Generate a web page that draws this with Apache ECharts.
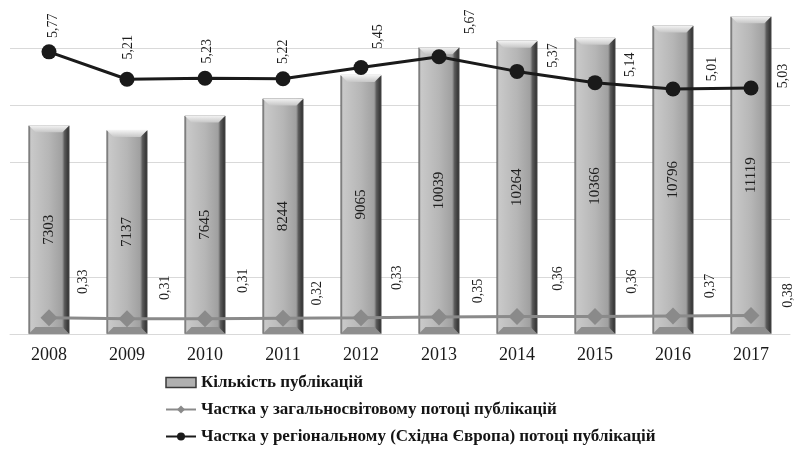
<!DOCTYPE html>
<html>
<head>
<meta charset="utf-8">
<script src="https://cdn.jsdelivr.net/npm/echarts@6/dist/echarts.min.js"></script>
<style>
  html, body { margin: 0; padding: 0; background: #ffffff; }
  #chart { width: 795px; height: 450px; }
</style>
</head>
<body>
<div id="chart"></div>
<script>
// Publication counts and shares, 2008–2017
const years = ['2008', '2009', '2010', '2011', '2012', '2013', '2014', '2015', '2016', '2017'];
const publications = [7303, 7137, 7645, 8244, 9065, 10039, 10264, 10366, 10796, 11119];
const worldShare = [0.33, 0.31, 0.31, 0.32, 0.33, 0.35, 0.36, 0.36, 0.37, 0.38];
const regionShare = [5.77, 5.21, 5.23, 5.22, 5.45, 5.67, 5.37, 5.14, 5.01, 5.03];
const seriesNames = [
  'Кількість публікацій',
  'Частка у загальносвітовому потоці публікацій',
  'Частка у регіональному (Східна Європа) потоці публікацій'
];

// Placement of the vertical value labels: screen shift (px) from each marker
const regionLabelShift = [[4, -26], [1, -32], [2, -27], [0, -27], [17, -31], [31, -35], [36, -16], [35, -18], [39, -20], [32, -12]];
const worldLabelShift = [[34, -36], [38, -31], [38, -38], [34, -25], [36, -40], [39, -26], [41, -38], [37, -35], [37, -30], [37, -20]];

const SERIF = '"Liberation Serif", "DejaVu Serif", serif';
const BAR_W = 41;
const BEVEL = 7;

// label offset is applied in the rotated text frame (rotate: 90)
function rotatedOffset(s) { return [-s[1], s[0]]; }
function fmt(v) { return v.toFixed(2).replace('.', ','); }

const barFill = new echarts.graphic.LinearGradient(0, 0, 1, 0, [
  { offset: 0, color: '#6f6f6f' },
  { offset: 0.06, color: '#c9c9c9' },
  { offset: 0.5, color: '#b6b6b6' },
  { offset: 0.82, color: '#a0a0a0' },
  { offset: 0.88, color: '#5a5a5a' },
  { offset: 1, color: '#2a2a2a' }
]);

const chart = echarts.init(document.getElementById('chart'), null, { renderer: 'canvas' });

chart.setOption({
  backgroundColor: '#ffffff',
  animation: false,
  grid: { left: 10, right: 5, top: 0, bottom: 116, containLabel: false },
  legend: {
    orient: 'vertical',
    left: 165,
    top: 374,
    padding: 0,
    itemWidth: 30,
    itemHeight: 10,
    itemGap: 10,
    textStyle: { fontFamily: SERIF, fontSize: 17, fontWeight: 'bold', color: '#141414' },
    data: [
      { name: seriesNames[0], icon: 'rect', itemStyle: { color: '#b0b0b0', borderColor: '#3a3a3a', borderWidth: 1.5 } },
      { name: seriesNames[1] },
      { name: seriesNames[2] }
    ]
  },
  xAxis: {
    type: 'category',
    data: years,
    axisLine: { show: true, lineStyle: { color: '#d9d9d9', width: 1 } },
    axisTick: { show: false },
    axisLabel: { fontFamily: SERIF, fontSize: 18, color: '#1a1a1a', margin: 12 }
  },
  yAxis: [
    {
      type: 'value', min: 0, max: 11690, interval: 2000,
      axisLabel: { show: false }, axisLine: { show: false }, axisTick: { show: false },
      splitLine: { showMaxLine: false, lineStyle: { color: '#d9d9d9', width: 1 } }
    },
    {
      type: 'value', min: 0, max: 6.83, show: false,
      splitLine: { show: false }
    }
  ],
  series: [
    {
      name: seriesNames[0],
      type: 'bar',
      data: publications,
      barWidth: BAR_W,
      z: 2,
      itemStyle: { color: barFill, borderColor: '#555555', borderWidth: 0.8 },
      label: {
        show: true, position: 'inside', rotate: 90,
        fontFamily: SERIF, fontSize: 15, color: '#1e1e1e'
      }
    },
    {
      // bevel highlights on the top and bottom of each bar
      type: 'custom',
      name: 'bevel',
      silent: true,
      z: 3,
      data: publications.map((v, i) => [i, v]),
      encode: { x: 0, y: 1 },
      renderItem: function (params, api) {
        const top = api.coord([api.value(0), api.value(1)]);
        const base = api.coord([api.value(0), 0]);
        const l = top[0] - BAR_W / 2, r = top[0] + BAR_W / 2;
        const t = top[1], b = base[1];
        return {
          type: 'group',
          children: [
            {
              type: 'polygon',
              shape: { points: [[l, t], [r, t], [r - BEVEL, t + BEVEL], [l + BEVEL, t + BEVEL]] },
              style: {
                fill: new echarts.graphic.LinearGradient(0, 0, 0, 1, [
                  { offset: 0, color: '#f4f4f4' },
                  { offset: 1, color: '#c6c6c6' }
                ])
              }
            },
            {
              type: 'polygon',
              shape: { points: [[l, b], [r, b], [r - BEVEL, b - BEVEL], [l + BEVEL, b - BEVEL]] },
              style: { fill: '#8e8e8e' }
            }
          ]
        };
      }
    },
    {
      name: seriesNames[1],
      type: 'line',
      yAxisIndex: 1,
      z: 4,
      symbol: 'diamond',
      symbolSize: 17,
      lineStyle: { color: '#8a8a8a', width: 3 },
      itemStyle: { color: '#8a8a8a' },
      data: worldShare.map((v, i) => ({
        value: v,
        label: { offset: rotatedOffset(worldLabelShift[i]) }
      })),
      label: {
        show: true, position: 'inside', rotate: 90,
        fontFamily: SERIF, fontSize: 14, color: '#1e1e1e',
        formatter: p => fmt(p.value)
      }
    },
    {
      name: seriesNames[2],
      type: 'line',
      yAxisIndex: 1,
      z: 5,
      symbol: 'circle',
      symbolSize: 15,
      lineStyle: { color: '#1a1a1a', width: 3 },
      itemStyle: { color: '#1a1a1a' },
      data: regionShare.map((v, i) => ({
        value: v,
        label: { offset: rotatedOffset(regionLabelShift[i]) }
      })),
      label: {
        show: true, position: 'inside', rotate: 90,
        fontFamily: SERIF, fontSize: 14, color: '#1e1e1e',
        formatter: p => fmt(p.value)
      }
    }
  ]
});
</script>
</body>
</html>
